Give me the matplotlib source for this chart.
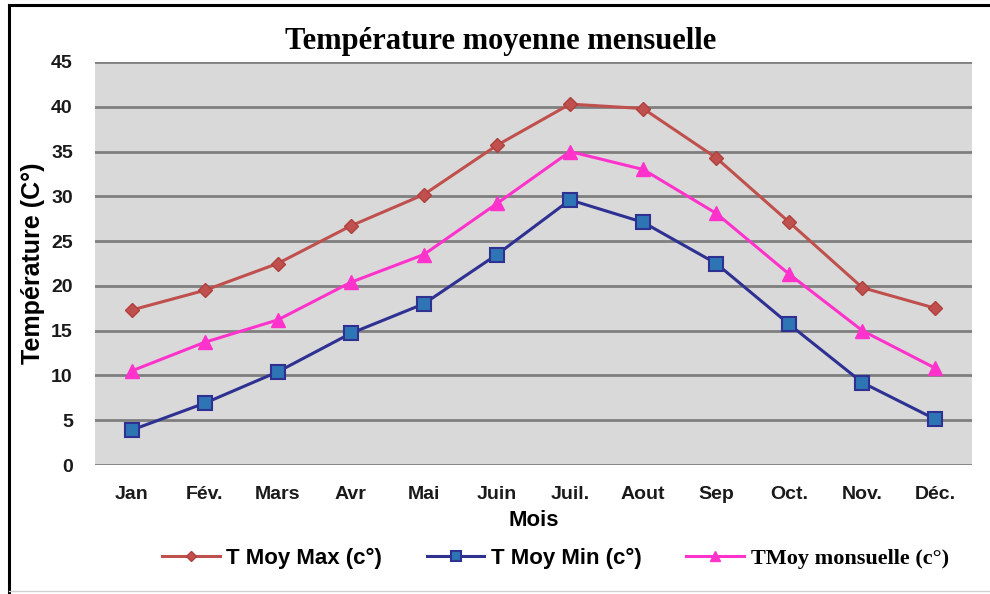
import matplotlib.pyplot as plt
from matplotlib.lines import Line2D

mois = ['Jan', 'Fév.', 'Mars', 'Avr', 'Mai', 'Juin', 'Juil.', 'Aout', 'Sep', 'Oct.', 'Nov.', 'Déc.']
t_max = [17.3, 19.5, 22.5, 26.7, 30.2, 35.7, 40.3, 39.8, 34.3, 27.1, 19.8, 17.5]
t_min = [3.9, 6.9, 10.4, 14.7, 18.0, 23.5, 29.6, 27.1, 22.5, 15.7, 9.2, 5.1]
t_moy = [10.5, 13.7, 16.2, 20.4, 23.5, 29.2, 35.0, 33.0, 28.1, 21.3, 15.0, 10.8]
y_ticks = [0, 5, 10, 15, 20, 25, 30, 35, 40, 45]

plt.rcParams['font.family'] = ['Liberation Sans', 'DejaVu Sans']

fig = plt.figure(figsize=(9.9, 5.94), dpi=100)
ax = fig.add_axes([95/990, 1 - 465/594, 877/990, 403/594])

# cadre : bord gauche et haut noirs, bas gris clair
fig.lines.append(Line2D([9/990, 9/990], [0, 1 - 5/594], transform=fig.transFigure,
                        color='black', linewidth=2.2))
fig.lines.append(Line2D([9/990, 1], [1 - 5/594, 1 - 5/594], transform=fig.transFigure,
                        color='black', linewidth=2.2))
fig.lines.append(Line2D([9/990, 1], [3/594, 3/594], transform=fig.transFigure,
                        color='#d0d0d0', linewidth=1))

ax.set_facecolor('#d9d9d9')
x = range(len(mois))
ax.plot(x, t_max, color='#c0504d', linewidth=2.2, marker='D', markersize=7,
        markerfacecolor='#c0504d', markeredgecolor='#b0403d', label='T Moy Max (c°)', zorder=3)
ax.plot(x, t_min, color='#2e3192', linewidth=2.2, marker='s', markersize=10,
        markerfacecolor='#2e75b6', markeredgecolor='#2e3192', markeredgewidth=1.5,
        label='T Moy Min (c°)', zorder=3)
ax.plot(x, t_moy, color='#ff33cc', linewidth=2.2, marker='^', markersize=10,
        markerfacecolor='#ff33cc', markeredgecolor='#ff33cc', label='TMoy monsuelle (c°)', zorder=3)

ax.set_xlim(-0.5, 11.5)
ax.set_ylim(0, 45)
ax.set_yticks(y_ticks)
ax.set_xticks(list(x))
ax.set_xticklabels(mois)
ax.tick_params(length=0, labelsize=14, labelcolor='#1a1a1a')
ax.tick_params(axis='x', pad=15)
ax.tick_params(axis='y', pad=16)
for lbl in ax.get_xticklabels() + ax.get_yticklabels():
    lbl.set_fontweight('bold')
ax.grid(axis='y', color='#7f7f7f', linewidth=2)
ax.set_axisbelow(True)
for s in ax.spines.values():
    s.set_visible(False)

ax.set_ylabel('Température (C°)', fontsize=18, fontweight='bold', labelpad=4)
ax.set_xlabel('Mois', fontsize=16, fontweight='bold', labelpad=5)
fig.text(501/990, 1 - 41/594, 'Température moyenne mensuelle', fontsize=22, fontweight='bold',
         family=['Liberation Serif', 'DejaVu Serif'], ha='center', va='center')

leg = ax.legend(loc='upper center', bbox_to_anchor=(0.525, -0.155), ncol=3, frameon=False,
                prop={'weight': 'bold', 'size': 16}, handlelength=2.6, markerscale=0.7,
                columnspacing=2.0, handletextpad=0.3)
leg.get_texts()[2].set_family(['Liberation Serif', 'DejaVu Serif'])

fig.savefig('out.png')
